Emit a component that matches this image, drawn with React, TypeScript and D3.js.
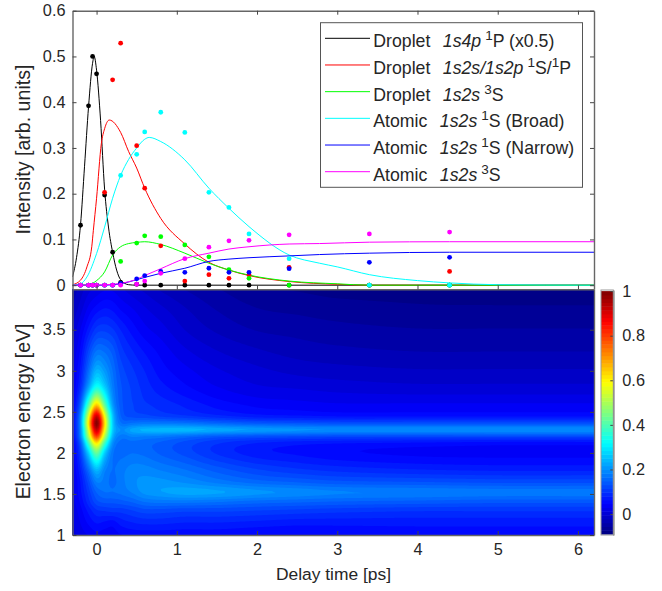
import React, { useEffect, useRef } from 'react';
import * as d3 from 'd3';

// delay times of the measured points
const dotTimes = [-0.2, -0.1, -0.05, 0, 0.1, 0.2, 0.3, 0.5, 0.6, 0.8, 1.1, 1.4, 1.65, 1.9, 2.4, 3.4, 4.4];
const dotsBlack = [0.131, 0.392, 0.5, 0.462, 0.197, 0.072, 0.006, 0.002, 0, 0, 0, 0, 0, 0, 0, 0, 0];
const dotsRed = [0, 0, 0, 0, 0.203, 0.449, 0.529, 0.305, 0.212, 0.086, 0.009, 0.023, 0.015, 0.023, 0.039, 0, 0.03];
const dotsGreen = [0, 0, 0, 0, 0, 0, 0.052, 0.092, 0.108, 0.106, 0.088, 0.062, 0.034, 0.015, 0, 0, 0];
const dotsCyan = [0, 0, 0, 0, 0, 0, 0.24, 0.286, 0.335, 0.378, 0.334, 0.203, 0.17, 0.112, 0.058, 0, 0];
const dotsBlue = [0, 0, 0, 0, 0, 0, 0.004, 0.014, 0.021, 0.03, 0.028, 0.037, 0.028, 0.028, 0.036, 0.05, 0.061];
const dotsMagenta = [0, 0, 0, 0, 0, 0, 0, 0.002, 0.009, 0.026, 0.058, 0.083, 0.097, 0.098, 0.11, 0.112, 0.116];

// fitted curves
const blackT = [-0.3, -0.25, -0.2, -0.15, -0.1, -0.05, -0.03, 0, 0.05, 0.1, 0.15, 0.2, 0.25, 0.3, 0.4, 0.5, 6.2];
const blackY = [0.018, 0.06, 0.132, 0.26, 0.39, 0.485, 0.5, 0.47, 0.36, 0.21, 0.125, 0.072, 0.033, 0.012, 0.001, 0, 0];
const redT = [-0.3, -0.2, -0.12, -0.06, -0.04, 0, 0.06, 0.1, 0.158, 0.3, 0.4, 0.5, 0.6, 0.8, 1.1, 1.4, 1.65, 1.9, 2.4, 3, 3.4, 6.2];
const redY = [0.001, 0.011, 0.04, 0.084, 0.12, 0.19, 0.31, 0.342, 0.361, 0.334, 0.292, 0.256, 0.212, 0.146, 0.09, 0.05, 0.033, 0.021, 0.008, 0.002, 0, 0];
const greenT = [-0.3, -0.1, 0, 0.1, 0.2, 0.3, 0.4, 0.5, 0.6, 0.8, 1.1, 1.4, 1.65, 1.9, 2.4, 3, 3.4, 6.2];
const greenY = [0, 0.001, 0.01, 0.029, 0.066, 0.084, 0.091, 0.0935, 0.095, 0.089, 0.07, 0.048, 0.033, 0.022, 0.009, 0.003, 0, 0];
const cyanT = [-0.3, -0.2, -0.12, 0, 0.1, 0.2, 0.3, 0.4, 0.5, 0.6, 0.656, 0.8, 1.1, 1.4, 1.65, 1.9, 2.4, 2.78, 3, 3.4, 4, 4.4, 5, 6.2];
const cyanY = [0, 0.003, 0.018, 0.069, 0.127, 0.19, 0.24, 0.275, 0.30, 0.319, 0.323, 0.314, 0.274, 0.212, 0.168, 0.128, 0.066, 0.048, 0.04, 0.023, 0.01, 0.005, 0.001, 0];
const blueT = [-0.3, 0.1, 0.3, 0.5, 0.6, 0.8, 1.1, 1.4, 1.65, 1.9, 2.4, 2.78, 3.4, 4.4, 6.2];
const blueY = [0, 0, 0.003, 0.012, 0.017, 0.026, 0.037, 0.052, 0.057, 0.06, 0.064, 0.067, 0.07, 0.072, 0.072];
const magentaT = [-0.3, 0.1, 0.3, 0.5, 0.6, 0.8, 1.1, 1.4, 1.65, 1.9, 2.4, 2.78, 3.4, 4.4, 6.2];
const magentaY = [0, 0.001, 0.004, 0.013, 0.021, 0.036, 0.058, 0.07, 0.079, 0.084, 0.09, 0.091, 0.094, 0.095, 0.095];

const colors = ['#000000', '#ff0000', '#00ff00', '#00ffff', '#0000ff', '#ff00ff'];

const legendKinds = ['Droplet', 'Droplet', 'Droplet', 'Atomic', 'Atomic', 'Atomic'];
const legendStates = ['1s4p', '1s2s/1s2p', '1s2s', '1s2s', '1s2s', '1s2s'];
const legendTerms = [
    [['1', 'P (x0.5)']],
    [['1', 'S/'], ['1', 'P']],
    [['3', 'S']],
    [['1', 'S (Broad)']],
    [['1', 'S (Narrow)']],
    [['3', 'S']],
];

// map samples: one row per energy, one column per delay time
const mapTimes = [-0.3, -0.2, -0.1, 0, 0.1, 0.2, 0.3, 0.45, 0.6, 0.8, 1.1, 1.5, 2, 2.5, 3, 4, 5, 6.2];
const mapEnergies = [1, 1.15, 1.3, 1.4, 1.52, 1.65, 1.8, 2, 2.12, 2.2, 2.28, 2.36, 2.45, 2.6, 2.8, 3, 3.25, 3.5, 3.75, 4];
const mapValues = [
    [0.005, 0.02, 0.03, 0.04, 0.035, 0.035, 0.045, 0.05, 0.05, 0.05, 0.05, 0.05, 0.045, 0.045, 0.045, 0.05, 0.05, 0.05],
    [0.01, 0.03, 0.05, 0.065, 0.06, 0.055, 0.07, 0.08, 0.085, 0.085, 0.08, 0.08, 0.075, 0.07, 0.07, 0.07, 0.07, 0.07],
    [0.015, 0.04, 0.07, 0.095, 0.1, 0.105, 0.105, 0.115, 0.125, 0.125, 0.12, 0.12, 0.115, 0.11, 0.105, 0.1, 0.1, 0.1],
    [0.02, 0.05, 0.09, 0.125, 0.135, 0.135, 0.14, 0.15, 0.165, 0.17, 0.17, 0.165, 0.155, 0.15, 0.145, 0.14, 0.135, 0.135],
    [0.02, 0.06, 0.105, 0.15, 0.165, 0.165, 0.17, 0.185, 0.205, 0.215, 0.225, 0.22, 0.205, 0.195, 0.185, 0.18, 0.175, 0.175],
    [0.02, 0.065, 0.125, 0.185, 0.175, 0.16, 0.175, 0.195, 0.205, 0.205, 0.195, 0.175, 0.155, 0.145, 0.135, 0.13, 0.125, 0.125],
    [0.025, 0.08, 0.165, 0.25, 0.19, 0.165, 0.175, 0.19, 0.19, 0.18, 0.165, 0.14, 0.115, 0.1, 0.09, 0.08, 0.075, 0.075],
    [0.03, 0.11, 0.27, 0.43, 0.27, 0.17, 0.16, 0.165, 0.16, 0.145, 0.125, 0.095, 0.07, 0.06, 0.05, 0.042, 0.04, 0.04],
    [0.03, 0.14, 0.39, 0.62, 0.39, 0.2, 0.16, 0.16, 0.155, 0.145, 0.125, 0.1, 0.08, 0.07, 0.065, 0.06, 0.055, 0.055],
    [0.035, 0.18, 0.5, 0.8, 0.51, 0.24, 0.175, 0.185, 0.18, 0.175, 0.16, 0.14, 0.13, 0.125, 0.12, 0.12, 0.12, 0.12],
    [0.04, 0.19, 0.56, 0.93, 0.59, 0.27, 0.2, 0.225, 0.24, 0.245, 0.245, 0.23, 0.215, 0.205, 0.2, 0.2, 0.2, 0.2],
    [0.04, 0.2, 0.61, 1, 0.63, 0.27, 0.17, 0.17, 0.175, 0.175, 0.17, 0.155, 0.14, 0.135, 0.13, 0.13, 0.13, 0.13],
    [0.035, 0.19, 0.56, 0.92, 0.58, 0.26, 0.15, 0.125, 0.12, 0.11, 0.1, 0.085, 0.07, 0.065, 0.06, 0.06, 0.06, 0.06],
    [0.03, 0.14, 0.39, 0.62, 0.41, 0.21, 0.14, 0.115, 0.1, 0.09, 0.075, 0.055, 0.04, 0.035, 0.03, 0.03, 0.03, 0.03],
    [0.025, 0.09, 0.22, 0.34, 0.27, 0.18, 0.135, 0.11, 0.09, 0.07, 0.05, 0.03, 0.015, 0.01, 0.005, 0, 0, 0],
    [0.02, 0.07, 0.16, 0.24, 0.21, 0.165, 0.125, 0.1, 0.08, 0.055, 0.035, 0.015, 0, -0.01, -0.015, -0.02, -0.02, -0.02],
    [0.01, 0.05, 0.115, 0.165, 0.16, 0.14, 0.105, 0.08, 0.06, 0.04, 0.015, -0.005, -0.02, -0.03, -0.035, -0.04, -0.04, -0.04],
    [-0.005, 0.03, 0.07, 0.105, 0.11, 0.1, 0.08, 0.055, 0.035, 0.02, -0.005, -0.025, -0.04, -0.045, -0.05, -0.055, -0.055, -0.055],
    [-0.02, 0.005, 0.035, 0.055, 0.065, 0.06, 0.045, 0.03, 0.015, 0, -0.02, -0.04, -0.055, -0.06, -0.065, -0.07, -0.07, -0.07],
    [-0.035, -0.015, 0.005, 0.015, 0.025, 0.025, 0.015, 0, -0.01, -0.025, -0.04, -0.055, -0.07, -0.075, -0.08, -0.08, -0.085, -0.085],
];

const xTicks = [0, 1, 2, 3, 4, 5, 6];
const intensityTicks = [0, 0.1, 0.2, 0.3, 0.4, 0.5, 0.6];
const energyTicks = [1, 1.5, 2, 2.5, 3, 3.5];
const colorbarTicks = [0, 0.2, 0.4, 0.6, 0.8, 1];

const FONT = '"Liberation Sans", Arial, sans-serif';
const TEXT = '#262626';
const FRAME = '#666666';
const LEVELS = 64;

const clamp01 = (v: number) => Math.max(0, Math.min(1, v));

const jet = (n: number) => d3.rgb(
    255 * clamp01(Math.min(4 * n - 1.5, -4 * n + 4.5)),
    255 * clamp01(Math.min(4 * n - 0.5, -4 * n + 3.5)),
    255 * clamp01(Math.min(4 * n + 0.5, -4 * n + 2.5)),
).formatHex();

// smooth reading between the map samples, like shading between contourf grid nodes
const hermite = (xs: number[], ys: number[], x: number) => {
    const n = xs.length;
    const i = Math.max(0, Math.min(n - 2, d3.bisectRight(xs, x) - 1));
    const h = xs[i + 1] - xs[i];
    const t = (x - xs[i]) / h;
    const slope = (k: number) => {
        const a = Math.max(0, k - 1);
        const b = Math.min(n - 1, k + 1);
        return (ys[b] - ys[a]) / (xs[b] - xs[a]);
    };
    const t2 = t * t;
    const t3 = t2 * t;
    return (2 * t3 - 3 * t2 + 1) * ys[i]
        + (t3 - 2 * t2 + t) * h * slope(i)
        + (-2 * t3 + 3 * t2) * ys[i + 1]
        + (t3 - t2) * h * slope(i + 1);
};

const drawAxisStyle = (g: any) => {
    g.selectAll('path').attr('stroke', FRAME).attr('stroke-width', 1.4);
    g.selectAll('line').attr('stroke', '#444444').attr('stroke-width', 1);
    g.selectAll('text').attr('fill', TEXT).attr('font-family', FONT).attr('font-size', 16.3);
};

const App = () => {
    const ref = useRef<SVGSVGElement>(null);

    useEffect(() => {
        const svg = d3.select(ref.current);
        svg.selectAll('*').remove();

        const left = 72.5;
        const right = 594;
        const x = d3.scaleLinear().domain([-0.3, 6.2]).range([left, right]);
        const yTop = d3.scaleLinear().domain([-0.009, 0.6]).range([289.3, 10.7]);
        const yMap = d3.scaleLinear().domain([1, 3.99]).range([535, 289.5]);
        const yBar = d3.scaleLinear().domain([-0.094, 1.005]).range([535, 290]);

        const defs = svg.append('defs');
        defs.append('clipPath').attr('id', 'clip-top').append('rect')
            .attr('x', left).attr('y', 10.7).attr('width', right - left).attr('height', 278.6);
        defs.append('clipPath').attr('id', 'clip-map').append('rect')
            .attr('x', left).attr('y', 289.5).attr('width', right - left).attr('height', 245.5);

        // top panel
        const top = svg.append('g');
        top.append('rect').attr('x', left).attr('y', 10.7).attr('width', right - left).attr('height', 278.6).attr('fill', '#fff');

        const curves = [
            [blackT, blackY], [redT, redY], [greenT, greenY],
            [cyanT, cyanY], [blueT, blueY], [magentaT, magentaY],
        ];
        const line = d3.line<[number, number]>()
            .x((d) => x(d[0]))
            .y((d) => yTop(d[1]))
            .curve(d3.curveMonotoneX);
        const curveLayer = top.append('g').attr('clip-path', 'url(#clip-top)');
        curves.forEach(([ts, ys], i) => {
            curveLayer.append('path')
                .attr('d', line(ts.map((t, k) => [t, ys[k]] as [number, number])))
                .attr('fill', 'none')
                .attr('stroke', colors[i])
                .attr('stroke-width', 1);
        });
        [dotsBlack, dotsRed, dotsGreen, dotsCyan, dotsBlue, dotsMagenta].forEach((vals, i) => {
            curveLayer.append('g').selectAll('circle')
                .data(vals)
                .join('circle')
                .attr('cx', (d, k) => x(dotTimes[k]))
                .attr('cy', (d) => yTop(d))
                .attr('r', 2.4)
                .attr('fill', colors[i]);
        });

        // map panel: filled contours on a finer grid
        const nx = 261;
        const ny = 124;
        const fineT = d3.range(nx).map((i) => -0.3 + (6.5 * i) / (nx - 1));
        const fineE = d3.range(ny).map((j) => 3.99 - (2.99 * j) / (ny - 1));
        const columns = mapTimes.map((_, c) => mapValues.map((row) => row[c]));
        const field = new Array(nx * ny);
        fineE.forEach((e, j) => {
            const atKnots = columns.map((col) => hermite(mapEnergies, col, e));
            fineT.forEach((t, i) => {
                field[j * nx + i] = hermite(mapTimes, atKnots, t);
            });
        });
        const vMin = -0.09;
        const vMax = 1;
        const step = (vMax - vMin) / LEVELS;
        const thresholds = d3.range(1, LEVELS).map((k) => vMin + k * step);
        const contours = d3.contours().size([nx, ny]).thresholds(thresholds)(field);
        const gx = d3.scaleLinear().domain([0.5, nx - 0.5]).range([left, right]);
        const gy = d3.scaleLinear().domain([0.5, ny - 0.5]).range([289.5, 535]);
        const path = d3.geoPath(d3.geoTransform({
            point(px, py) { this.stream.point(gx(px), gy(py)); },
        }));
        const mapLayer = svg.append('g').attr('clip-path', 'url(#clip-map)');
        mapLayer.append('rect')
            .attr('x', left).attr('y', 289.5).attr('width', right - left).attr('height', 245.5)
            .attr('fill', jet(0.5 / LEVELS));
        mapLayer.selectAll('path')
            .data(contours)
            .join('path')
            .attr('d', path as any)
            .attr('fill', (d, k) => jet((k + 1.5) / LEVELS))
            .attr('stroke', 'none');

        // axes of the top panel
        const tickLen = 4;
        top.append('g').attr('transform', 'translate(0,10.7)')
            .call(d3.axisTop(x).tickValues(xTicks).tickSizeInner(-tickLen).tickSizeOuter(0).tickFormat(() => ''))
            .call(drawAxisStyle);
        top.append('g').attr('transform', `translate(${left},0)`)
            .call(d3.axisLeft(yTop).tickValues(intensityTicks).tickSizeInner(-tickLen).tickSizeOuter(0).tickPadding(7).tickFormat((d) => String(d)))
            .call(drawAxisStyle);
        top.append('g').attr('transform', `translate(${right},0)`)
            .call(d3.axisRight(yTop).tickValues(intensityTicks).tickSizeInner(-tickLen).tickSizeOuter(0).tickFormat(() => ''))
            .call(drawAxisStyle);
        svg.append('g').attr('transform', 'translate(0,289.3)')
            .call(d3.axisBottom(x).tickValues(xTicks).tickSizeInner(-tickLen).tickSizeOuter(0).tickFormat(() => ''))
            .call(drawAxisStyle);

        // axes of the map panel
        svg.append('g').attr('transform', 'translate(0,535)')
            .call(d3.axisBottom(x).tickValues(xTicks).tickSizeInner(-tickLen).tickSizeOuter(0).tickPadding(8).tickFormat((d) => String(d)))
            .call(drawAxisStyle);
        svg.append('g').attr('transform', `translate(${left},0)`)
            .call(d3.axisLeft(yMap).tickValues(energyTicks).tickSizeInner(-tickLen).tickSizeOuter(0).tickPadding(7).tickFormat((d) => String(d)))
            .call(drawAxisStyle);
        svg.append('g').attr('transform', `translate(${right},0)`)
            .call(d3.axisRight(yMap).tickValues(energyTicks).tickSizeInner(-tickLen).tickSizeOuter(0).tickFormat(() => ''))
            .call(drawAxisStyle);

        // axis titles
        const title = (tx: number, ty: number, rotate: number, size: number, label: string) => {
            svg.append('text')
                .attr('transform', `translate(${tx},${ty}) rotate(${rotate})`)
                .attr('text-anchor', 'middle')
                .attr('font-family', FONT)
                .attr('font-size', size)
                .attr('fill', TEXT)
                .text(label);
        };
        title(333.5, 580, 0, 17.4, 'Delay time [ps]');
        title(30, 149.5, -90, 19.6, 'Intensity [arb. units]');
        title(30, 411.5, -90, 19.4, 'Electron energy [eV]');

        // colorbar
        const barX = 601;
        const barW = 12.3;
        const bar = svg.append('g');
        bar.selectAll('rect')
            .data(d3.range(LEVELS))
            .join('rect')
            .attr('x', barX)
            .attr('width', barW)
            .attr('y', (k) => yBar(vMin + (k + 1) * step))
            .attr('height', (k) => yBar(vMin + k * step) - yBar(vMin + (k + 1) * step) + 0.5)
            .attr('fill', (k) => jet((k + 0.5) / LEVELS));
        svg.append('g').attr('transform', `translate(${barX + barW},0)`)
            .call(d3.axisRight(yBar).tickValues(colorbarTicks).tickSizeInner(-3).tickSizeOuter(0).tickPadding(9).tickFormat((d) => String(d)))
            .call(drawAxisStyle);
        svg.append('rect')
            .attr('x', barX).attr('y', 290).attr('width', barW).attr('height', 245)
            .attr('fill', 'none').attr('stroke', '#999999').attr('stroke-width', 1);

        // legend
        const legend = svg.append('g');
        legend.append('rect')
            .attr('x', 320.5).attr('y', 22.7).attr('width', 262).attr('height', 164.6)
            .attr('fill', '#fff').attr('stroke', '#555555').attr('stroke-width', 1);
        const rowY = d3.scalePoint<number>().domain(d3.range(6)).range([38.3, 171.7]);
        legendKinds.forEach((kind, i) => {
            const y = rowY(i) as number;
            legend.append('line')
                .attr('x1', 325).attr('x2', 370).attr('y1', y).attr('y2', y)
                .attr('stroke', colors[i]).attr('stroke-width', 1);
            const text = legend.append('text')
                .attr('x', 373.3).attr('y', y + 9)
                .attr('font-family', FONT).attr('font-size', 17.7).attr('fill', TEXT);
            text.append('tspan').text(kind);
            text.append('tspan')
                .attr('dx', 12.5)
                .attr('font-style', 'italic')
                .text(legendStates[i]);
            legendTerms[i].forEach(([sup, rest], k) => {
                text.append('tspan')
                    .attr('dx', k === 0 ? 4 : 0).attr('dy', -7).attr('font-size', 13.5)
                    .text(sup);
                text.append('tspan').attr('dy', 7).text(rest);
            });
        });
    }, []);

    return (
        <svg
            ref={ref}
            width={662}
            height={591}
            style={{ position: 'absolute', left: 0, top: 0, background: '#fff' }}
        />
    );
};

export default App;
